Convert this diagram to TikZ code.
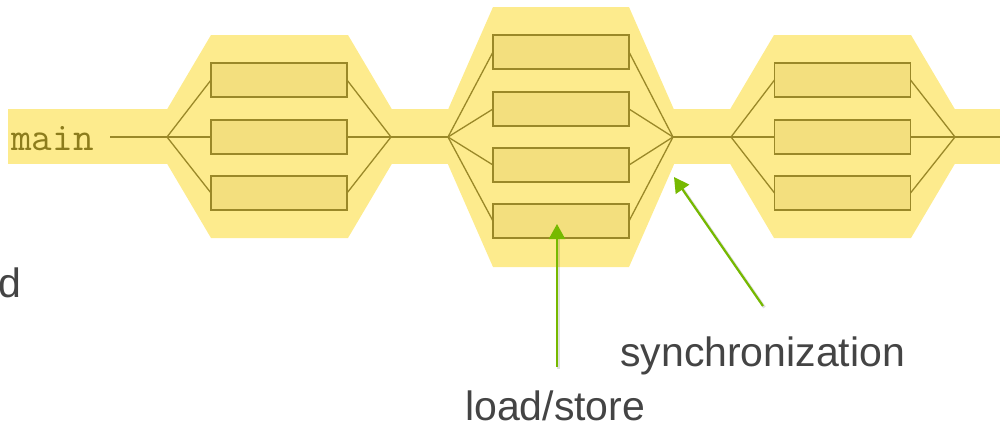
\documentclass[tikz,border=0pt]{standalone}
\usepackage{fontspec}
\setmainfont{Liberation Sans}
\usetikzlibrary{arrows.meta}
\definecolor{hexfill}{HTML}{FDEB8D}
\definecolor{boxfill}{HTML}{F3DF7E}
\definecolor{olive}{HTML}{9A8828}
\definecolor{codeolive}{HTML}{8C7C1C}
\definecolor{nvgreen}{HTML}{76B900}
\definecolor{labelgray}{HTML}{444444}
\begin{document}
\begin{tikzpicture}[x=1pt,y=-1pt,
  region/.style={fill=hexfill,draw=none},
  task/.style={draw=olive,fill=boxfill,line width=1.3pt,minimum width=136pt,
    minimum height=34pt,inner sep=0pt,outer sep=0pt},
  flow/.style={draw=olive,line width=1.3pt},
  pointer/.style={draw=nvgreen,line width=2.2pt,-{Triangle[length=15pt,width=16pt]}},
  pointershade/.style={draw=black,opacity=0.12,line width=3pt,shorten >=12pt},
  lbl/.style={text=labelgray,font=\fontsize{41}{41}\selectfont,inner sep=0pt}]
\useasboundingbox (0,0) rectangle (1000,429);

% thread band and parallel regions
\fill[region] (8,109) rectangle (1000,164);
\fill[region] (151,136.5) -- (211,35) -- (348,35) -- (408,136.5) -- (348,238) -- (211,238) -- cycle;
\fill[region] (436,137) -- (493,7) -- (629,7) -- (686,137) -- (629,267) -- (493,267) -- cycle;
\fill[region] (714,136.5) -- (774,35) -- (911,35) -- (971,136.5) -- (911,238) -- (774,238) -- cycle;

% tasks
\node[task] (a1) at (279,80) {};
\node[task] (a2) at (279,137) {};
\node[task] (a3) at (279,193) {};
\node[task] (b1) at (561,52) {};
\node[task] (b2) at (561,109) {};
\node[task] (b3) at (561,165) {};
\node[task] (b4) at (561,221) {};
\node[task] (c1) at (842.5,80) {};
\node[task] (c2) at (842.5,137) {};
\node[task] (c3) at (842.5,193) {};

% fork / join points
\coordinate (mainend) at (110,137);
\coordinate (fork1) at (167,137);
\coordinate (join1) at (391,137);
\coordinate (fork2) at (448,137);
\coordinate (join2) at (673,137);
\coordinate (fork3) at (731,137);
\coordinate (join3) at (955,137);
\coordinate (rightend) at (1000,137);

\node[anchor=base west,inner sep=0pt,text=codeolive,
  font=\ttfamily\fontsize{40}{40}\selectfont] (mainlbl) at (11,150)
  {\addfontfeatures{FakeBold=1.5}main};

\draw[flow] (mainend) -- (fork1);
\foreach \t in {a1,a2,a3} {
  \draw[flow] (fork1) -- (\t.west);
  \draw[flow] (\t.east) -- (join1);
}
\draw[flow] (join1) -- (fork2);
\foreach \t in {b1,b2,b3,b4} {
  \draw[flow] (fork2) -- (\t.west);
  \draw[flow] (\t.east) -- (join2);
}
\draw[flow] (join2) -- (fork3);
\foreach \t in {c1,c2,c3} {
  \draw[flow] (fork3) -- (\t.west);
  \draw[flow] (\t.east) -- (join3);
}
\draw[flow] (join3) -- (rightend);

% annotations
\node[lbl,anchor=base east] (cut) at (22,297) {d};
\node[lbl,anchor=base west] (sync) at (620,366) {synchronization};
\node[lbl,anchor=base west] (ls) at (465,420) {load/store};

\coordinate (lstail) at (557,367);
\coordinate (lstip) at (557,224);
\coordinate (synctail) at (763,306);
\coordinate (synctip) at (674,177);

\draw[pointershade] ([shift={(1.5,1.5)}]lstail) -- ([shift={(1.5,1.5)}]lstip);
\draw[pointershade] ([shift={(1.5,1.5)}]synctail) -- ([shift={(1.5,1.5)}]synctip);
\draw[pointer] (lstail) -- (lstip);
\draw[pointer] (synctail) -- (synctip);
\end{tikzpicture}
\end{document}
